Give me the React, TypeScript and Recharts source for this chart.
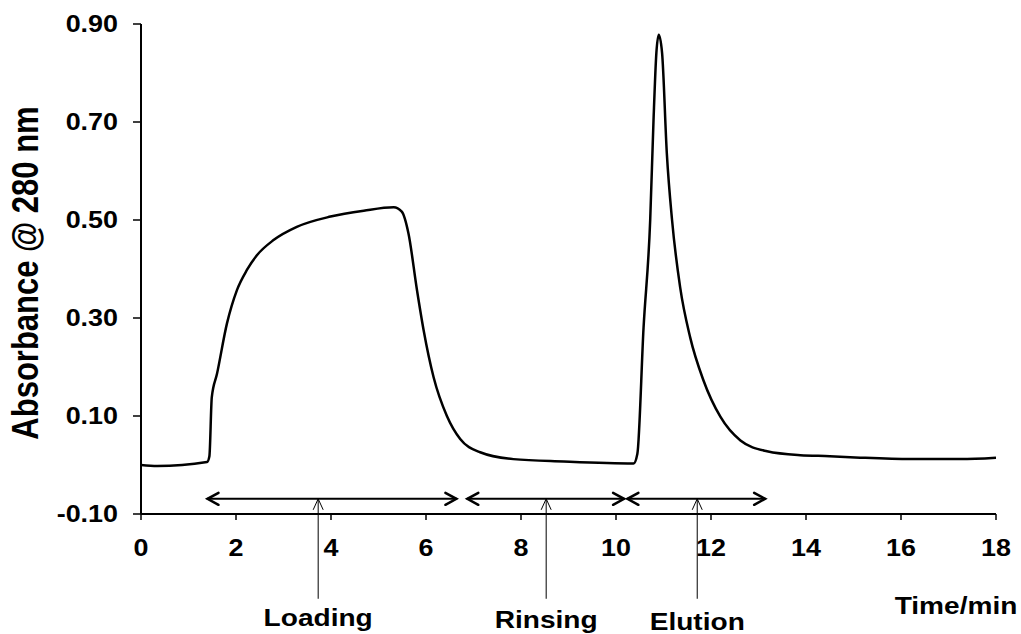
import { LineChart, Line, XAxis, YAxis, ReferenceLine } from "recharts";

// absorbance trace
const TIME_MIN = [
  0.0, 0.34, 1.39, 1.44, 1.49, 1.6, 1.81, 2.02, 2.23, 2.44, 2.79, 3.28, 3.99,
  4.69, 5.32, 5.49, 5.63, 5.81, 5.95, 6.16, 6.44, 6.72, 7.14, 7.84, 8.9, 10.37,
  10.45, 10.58, 10.72, 10.79, 10.85, 10.9, 10.97, 11.07, 11.18, 11.35, 11.56,
  11.84, 12.2, 12.62, 13.18, 13.88, 14.5, 15.14, 16.2, 17.25, 18.0,
];
const ABSORBANCE = [
  0.0, -0.002, 0.006, 0.018, 0.138, 0.186, 0.289, 0.357, 0.398, 0.428, 0.459,
  0.486, 0.507, 0.519, 0.526, 0.517, 0.473, 0.357, 0.275, 0.179, 0.1, 0.053,
  0.026, 0.012, 0.007, 0.003, 0.023, 0.28, 0.5, 0.704, 0.841, 0.878, 0.841,
  0.636, 0.5, 0.363, 0.261, 0.173, 0.098, 0.05, 0.028, 0.02, 0.018, 0.015,
  0.012, 0.012, 0.015,
];

const X_TICKS = [0, 2, 4, 6, 8, 10, 12, 14, 16, 18];
const Y_TICKS = [-0.1, 0.1, 0.3, 0.5, 0.7, 0.9];

// process phases (minutes)
const PHASES = ["Loading", "Rinsing", "Elution"];
const PHASE_START = [1.4, 6.87, 10.24];
const PHASE_END = [6.64, 10.17, 13.14];
const PHASE_POINTER = [3.73, 8.53, 11.71];
const ARROW_LEVEL = -0.069;
const POINTER_FOOT = -0.273;

const data = TIME_MIN.map((t, i) => ({ t, a: ABSORBANCE[i] }));

const FONT = "'Liberation Sans', Arial, sans-serif";
const STRETCH = 1.17;
const LABEL_DY = [27, 29, 31];

function XTick(props: any) {
  const { x, y, payload } = props;
  return (
    <text
      transform={`translate(${x},${y}) scale(${STRETCH},1)`}
      textAnchor="middle"
      dy="0.71em"
      fontFamily={FONT}
      fontWeight="bold"
      fontSize={23}
      fill="#000"
    >
      {payload.value}
    </text>
  );
}

function YTick(props: any) {
  const { x, y, payload } = props;
  return (
    <text
      transform={`translate(${x},${y}) scale(${STRETCH},1)`}
      textAnchor="end"
      dy="0.355em"
      fontFamily={FONT}
      fontWeight="bold"
      fontSize={23}
      fill="#000"
    >
      {Number(payload.value).toFixed(2)}
    </text>
  );
}

function DoubleArrow(p: any) {
  const { x1, y1, x2, y2 } = p;
  const h = 11;
  const w = 6;
  return (
    <g stroke="#000" fill="none" strokeLinecap="round">
      <line x1={x1} y1={y1} x2={x2} y2={y2} strokeWidth={2} />
      <polyline
        points={`${x1 + h},${y1 - w} ${x1},${y1} ${x1 + h},${y1 + w}`}
        strokeWidth={2.5}
      />
      <polyline
        points={`${x2 - h},${y2 - w} ${x2},${y2} ${x2 - h},${y2 + w}`}
        strokeWidth={2.5}
      />
    </g>
  );
}

function Pointer(p: any, label: string, dy: number) {
  const { x1, y1, x2, y2 } = p;
  return (
    <g>
      <g stroke="#000" fill="none" strokeWidth={1}>
        <line x1={x1} y1={y1} x2={x2} y2={y2} />
        <polyline points={`${x1 - 5},${y1 + 11} ${x1},${y1} ${x1 + 5},${y1 + 11}`} />
      </g>
      <text
        transform={`translate(${x2},${y2 + dy}) scale(${STRETCH},1)`}
        textAnchor="middle"
        fontFamily={FONT}
        fontWeight="bold"
        fontSize={24}
        fill="#000"
      >
        {label}
      </text>
    </g>
  );
}

function YTitle(props: any) {
  const vb = props.viewBox;
  const cx = vb.x - 36;
  const cy = vb.y + vb.height / 2 + 4;
  return (
    <text
      transform={`translate(${cx},${cy}) scale(${STRETCH},1) rotate(-90)`}
      textAnchor="middle"
      dy="0.35em"
      fontFamily={FONT}
      fontWeight="bold"
      fontSize={31}
      fill="#000"
    >
      Absorbance @ 280 nm
    </text>
  );
}

function XTitle(props: any) {
  const vb = props.viewBox;
  return (
    <text
      transform={`translate(${vb.x + vb.width - 40},${vb.y + 100}) scale(${STRETCH},1)`}
      textAnchor="middle"
      fontFamily={FONT}
      fontWeight="bold"
      fontSize={24}
      fill="#000"
    >
      Time/min
    </text>
  );
}

export default function App() {
  return (
    <div style={{ width: 1021, height: 634, background: "#fff" }}>
      <style>{"body{margin:0;overflow:hidden;background:#fff}"}</style>
      <LineChart
        width={1021}
        height={634}
        data={data}
        margin={{ top: 24, right: 25, bottom: 80, left: 61 }}
      >
        <XAxis
          dataKey="t"
          type="number"
          domain={[0, 18]}
          ticks={X_TICKS}
          allowDataOverflow
          height={40}
          axisLine={{ stroke: "#000", strokeWidth: 2 }}
          tickLine={{ stroke: "#000", strokeWidth: 1.5 }}
          tickSize={6}
          tickMargin={20}
          tick={(p: any) => <XTick {...p} />}
          label={{ content: (p: any) => <XTitle {...p} /> }}
        />
        <YAxis
          type="number"
          domain={[-0.1, 0.9]}
          ticks={Y_TICKS}
          allowDataOverflow
          width={80}
          axisLine={{ stroke: "#000", strokeWidth: 2 }}
          tickLine={{ stroke: "#000", strokeWidth: 1.5 }}
          tickSize={8}
          tickMargin={15}
          tick={(p: any) => <YTick {...p} />}
          label={{ content: (p: any) => <YTitle {...p} /> }}
        />
        {PHASES.map((name, i) => (
          <ReferenceLine
            key={`span-${name}`}
            segment={[
              { x: PHASE_START[i], y: ARROW_LEVEL },
              { x: PHASE_END[i], y: ARROW_LEVEL },
            ]}
            ifOverflow="visible"
            shape={(p: any) => <DoubleArrow {...p} />}
          />
        ))}
        {PHASES.map((name, i) => (
          <ReferenceLine
            key={`ptr-${name}`}
            segment={[
              { x: PHASE_POINTER[i], y: ARROW_LEVEL },
              { x: PHASE_POINTER[i], y: POINTER_FOOT },
            ]}
            ifOverflow="visible"
            shape={(p: any) => Pointer(p, name, LABEL_DY[i])}
          />
        ))}
        <Line
          type="monotone"
          dataKey="a"
          stroke="#000"
          strokeWidth={2.5}
          dot={false}
          isAnimationActive={false}
        />
      </LineChart>
    </div>
  );
}
